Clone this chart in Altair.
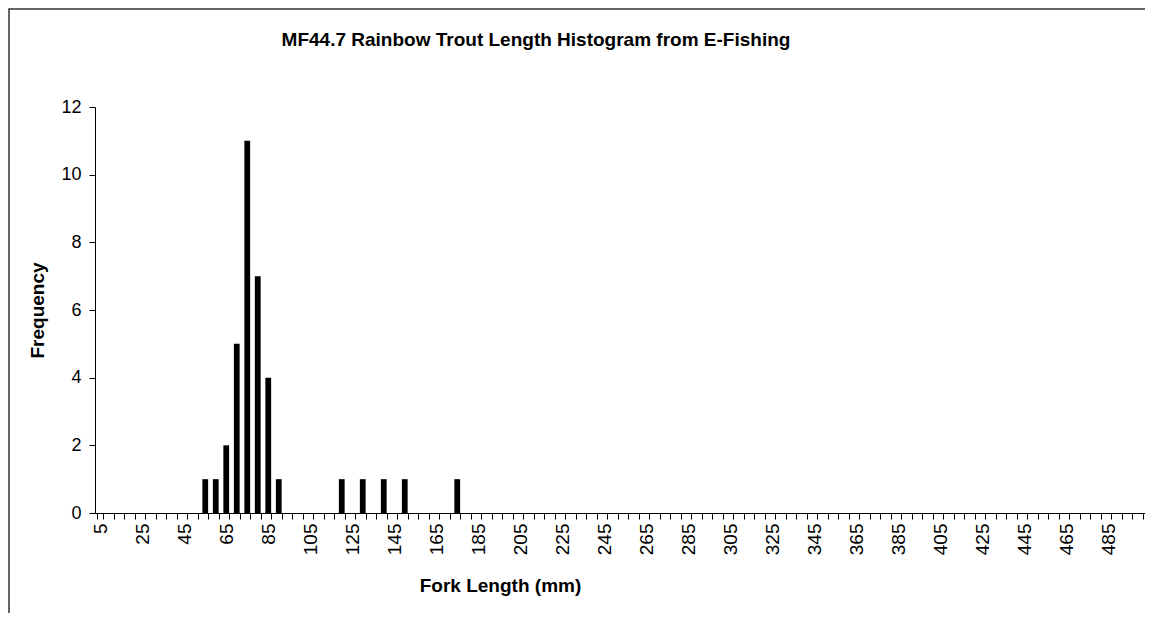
import altair as alt
import pandas as pd

# Histogram bins (upper edge of each 5 mm class), as on the Excel category axis
bins = list(range(5, 505, 5))

# Observed (non-zero) classes and their frequencies
obs_length = [55, 60, 65, 70, 75, 80, 85, 90, 120, 130, 140, 150, 175]
obs_freq = [1, 1, 2, 5, 11, 7, 4, 1, 1, 1, 1, 1, 1]

freq_map = dict(zip(obs_length, obs_freq))
df = pd.DataFrame({"len": bins, "freq": [freq_map.get(b, 0) for b in bins]})

title_text = "MF44.7 Rainbow Trout Length Histogram from E-Fishing"
FONT = "Liberation Sans"

W, H = 1050, 406

bars = alt.Chart(df).mark_bar(color="black").encode(
    x=alt.X(
        "len:O",
        sort=bins,
        scale=alt.Scale(domain=bins, paddingInner=0.45, paddingOuter=0.225),
        axis=alt.Axis(
            title="Fork Length (mm)",
            labelExpr="(datum.value - 5) % 20 == 0 ? datum.label : ''",
            labelAngle=-90,
            labelFont=FONT,
            labelFontSize=19,
            labelColor="black",
            labelPadding=4,
            labelOverlap=False,
            tickBand="extent",
            tickSize=6,
            tickColor="black",
            domainColor="black",
            titleFont=FONT,
            titleFontSize=19,
            titleFontWeight="bold",
            titleColor="black",
            titleX=405,
            titleY=78,
            titleBaseline="alphabetic",
            titleAlign="center",
        ),
    ),
    y=alt.Y(
        "freq:Q",
        scale=alt.Scale(domain=[0, 12], nice=False),
        axis=alt.Axis(
            title="Frequency",
            values=[0, 2, 4, 6, 8, 10, 12],
            grid=False,
            labelFont=FONT,
            labelFontSize=18,
            labelColor="black",
            labelPadding=8,
            tickSize=6,
            tickColor="black",
            domainColor="black",
            titleFont=FONT,
            titleFontSize=19,
            titleFontWeight="bold",
            titleColor="black",
            titleX=-58,
            titleY=203,
            titleAngle=-90,
            titleAlign="center",
            titleBaseline="middle",
        ),
    ),
)

one = alt.Data(values=[{"k": 0}])

border = alt.Chart(one).mark_rect(
    filled=False, stroke="#333333", strokeWidth=1.5
).encode(
    x=alt.value(-86), x2=alt.value(W + 20),
    y=alt.value(-98), y2=alt.value(H + 120),
)

# white masks over the plot's top and right edges (no frame there in the original)
mask_top = alt.Chart(one).mark_rule(color="white", strokeWidth=2.5).encode(
    x=alt.value(1.5), x2=alt.value(W + 2), y=alt.value(0)
)
mask_right = alt.Chart(one).mark_rule(color="white", strokeWidth=3).encode(
    x=alt.value(W - 0.5), y=alt.value(-96), y2=alt.value(H - 1)
)

title = alt.Chart(alt.Data(values=[{"t": title_text}])).mark_text(
    font=FONT, fontSize=19, fontWeight="bold", color="black",
    align="center", baseline="alphabetic",
).encode(x=alt.value(441), y=alt.value(-61), text="t:N")

chart = (
    alt.layer(border, bars, mask_top, mask_right, title)
    .properties(
        width=W,
        height=H,
        background="white",
        autosize=alt.AutoSizeParams(type="none"),
        padding={"left": 87, "top": 99, "right": 0, "bottom": 100},
    )
    .configure_view(stroke=None, strokeWidth=0)
    .configure_axis(grid=False)
)

chart.save("out.html", embed_options={"renderer": "svg", "actions": False})
